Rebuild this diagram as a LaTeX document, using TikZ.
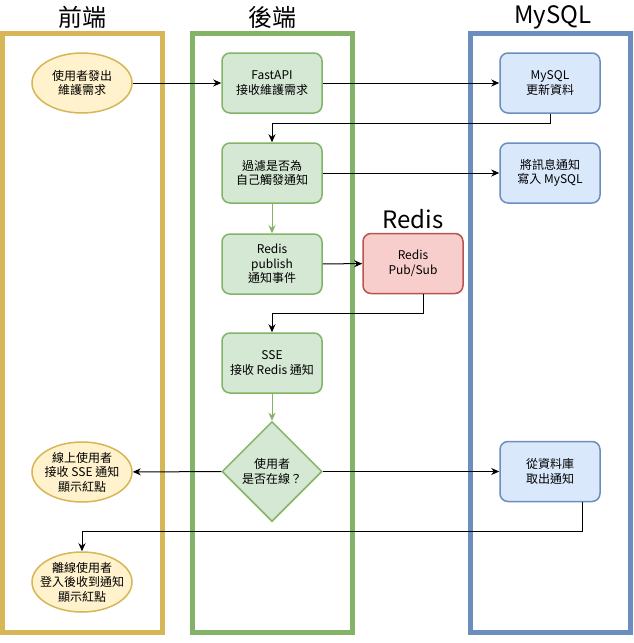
\documentclass[tikz,border=0pt]{standalone}
\usepackage{fontspec}
\setmainfont{Noto Sans CJK TC}
\usetikzlibrary{shapes.geometric,arrows.meta}

\definecolor{yfill}{HTML}{FFF2CC}
\definecolor{yline}{HTML}{D6B656}
\definecolor{gfill}{HTML}{D5E8D4}
\definecolor{gline}{HTML}{82B366}
\definecolor{bfill}{HTML}{DAE8FC}
\definecolor{bline}{HTML}{6C8EBF}
\definecolor{rfill}{HTML}{F8CECC}
\definecolor{rline}{HTML}{B85450}

\tikzset{
	lane/.style={draw=#1,line width=5pt},
	lanetitle/.style={font=\fontsize{24}{28}\selectfont},
	box/.style={draw=#1line,fill=#1fill,rounded corners=8pt,line width=1.5pt,
		minimum width=100pt,minimum height=60pt,inner sep=0pt,align=center,
		font=\fontsize{12}{14.5}\selectfont},
	user/.style={ellipse,draw=yline,fill=yfill,line width=1.5pt,
		minimum width=100pt,minimum height=60pt,inner sep=0pt,
		label={[align=center,font=\fontsize{12}{14.5}\selectfont]center:#1}},
	check/.style={diamond,draw=gline,fill=gfill,line width=1.5pt,
		minimum width=100pt,minimum height=100pt,inner sep=0pt,align=center,
		font=\fontsize{12}{14.5}\selectfont},
	arr/.style={draw=#1,line width=1pt,-{Stealth[length=8pt,width=7pt,inset=2.5pt]}},
	arr/.default=black
}

\begin{document}
\begin{tikzpicture}[x=1pt,y=-1pt]
	\useasboundingbox (0,0) rectangle (633,643);
	% lanes
	\draw[lane=yline] (2.5,33.5) rectangle (162.5,632.5);
	\draw[lane=gline] (192,33.5) rectangle (352,632.5);
	\draw[lane=bline] (470.5,33.5) rectangle (630.5,632.5);
	\node[lanetitle] (T1) at (82,17) {前端};
	\node[lanetitle] (T2) at (272,17) {後端};
	\node[lanetitle] (T3) at (553,17) {MySQL};
	\node[lanetitle] (T4) at (413,219) {Redis};

	\node[user={使用者發出\\維護需求}] (U1) at (82,83) {};
	\node[box=g] (A) at (272,83) {FastAPI\\接收維護需求};
	\node[box=b] (M1) at (550,83) {MySQL\\更新資料};
	\node[box=g] (B) at (272,173) {過濾是否為\\自己觸發通知};
	\node[box=b] (M2) at (550,173) {將訊息通知\\寫入 MySQL};
	\node[box=g] (C) at (272,264) {Redis\\publish\\通知事件};
	\node[box=r] (R) at (413,263.5) {Redis\\Pub/Sub};
	\node[box=g] (D) at (272,363) {SSE\\接收 Redis 通知};
	\node[check] (E) at (272,471.5) {使用者\\是否在線？};
	\node[box=b] (M3) at (550,471.5) {從資料庫\\取出通知};
	\node[user={線上使用者\\接收 SSE 通知\\顯示紅點}] (U2) at (82,472) {};
	\node[user={離線使用者\\登入後收到通知\\顯示紅點}] (U3) at (82,582) {};

	% connectors
	\draw[arr] (U1) -- (A);
	\draw[arr] (A) -- (M1);
	\draw[arr] (M1.south) -- ++(0,10) -| (B.north);
	\draw[arr] (B) -- (M2);
	\draw[arr=gline] (B) -- (C);
	\draw[arr] (C) -- (R);
	\draw[arr] ([xshift=10pt]R.south) -- ++(0,19.5) -| (D.north);
	\draw[arr=gline] (D) -- (E);
	\draw[arr] (E) -- (U2);
	\draw[arr] (E) -- (M3);
	\draw[arr] ([xshift=32pt]M3.south) -- ++(0,29.5) -| (U3.north);
\end{tikzpicture}
\end{document}
